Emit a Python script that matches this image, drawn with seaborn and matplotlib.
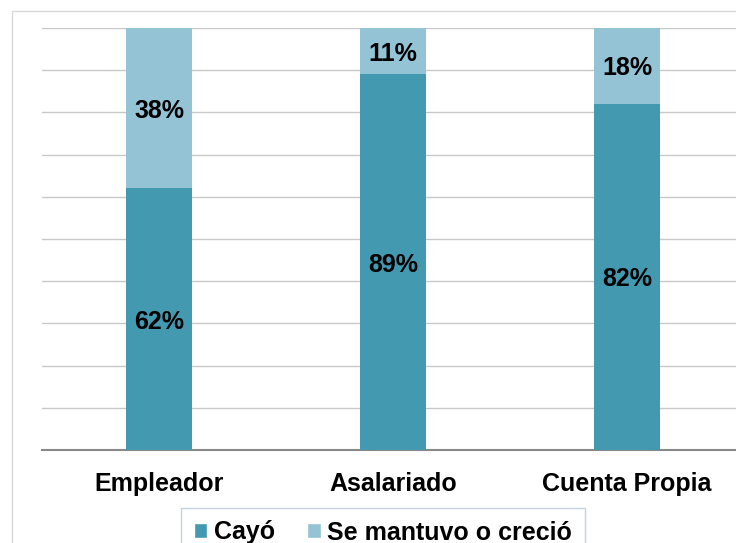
import matplotlib
matplotlib.use("Agg")
import matplotlib.pyplot as plt
import seaborn as sns
import pandas as pd
from matplotlib.patches import Patch, Rectangle

# datos del gráfico
categorias = ['Empleador', 'Asalariado', 'Cuenta Propia']
cayo = [62, 89, 82]
mantuvo = [38, 11, 18]
series = ['Cayó', 'Se mantuvo o creció']

color_cayo = '#4399b0'
color_mantuvo = '#93c3d4'

sns.set_style("white")
plt.rcParams['font.family'] = ['Liberation Sans', 'DejaVu Sans']
plt.rcParams['text.color'] = 'black'
plt.rcParams['xtick.labelcolor'] = 'black'

df = pd.DataFrame({'Categoria': categorias, 'Cayo': cayo, 'Mantuvo': mantuvo})
df['Total'] = df['Cayo'] + df['Mantuvo']

fig = plt.figure(figsize=(7.36, 5.43), dpi=100)
ax = fig.add_axes([42 / 736, 1 - 450 / 543, 702 / 736, 422 / 543])

# barras apiladas: total (claro) y luego la parte que cayó (oscuro)
sns.barplot(data=df, x='Categoria', y='Total', color=color_mantuvo,
            width=0.286, saturation=1, linewidth=0, ax=ax, zorder=2)
sns.barplot(data=df, x='Categoria', y='Cayo', color=color_cayo,
            width=0.286, saturation=1, linewidth=0, ax=ax, zorder=3)

for i, row in df.iterrows():
    ax.text(i, row['Cayo'] / 2, f"{row['Cayo']}%", ha='center', va='center_baseline',
            fontsize=18, fontweight='bold', color='black', zorder=4)
    ax.text(i, row['Cayo'] + row['Mantuvo'] / 2, f"{row['Mantuvo']}%",
            ha='center', va='center_baseline', fontsize=18, fontweight='bold',
            color='black', zorder=4)

ax.set_xlim(-0.5, 2.5)
ax.set_ylim(0, 100)
ax.set_yticks(range(0, 101, 10))
ax.yaxis.grid(True, color='#c8c8c8', linewidth=1, zorder=0)
ax.set_axisbelow(True)
ax.tick_params(axis='y', left=False, labelleft=False)
ax.set_xlabel('')
ax.set_ylabel('')

# marcas del eje x en los límites de cada categoría
ax.set_xticks([0, 1, 2])
ax.set_xticklabels(categorias, fontsize=18, fontweight='bold', color='black')
ax.tick_params(axis='x', which='major', length=0, pad=16)
ax.set_xticks([-0.5, 0.5, 1.5, 2.5], minor=True)
ax.tick_params(axis='x', which='minor', length=7, width=1.5, color='#888888', direction='out')

for s in ['top', 'right', 'left']:
    ax.spines[s].set_visible(False)
ax.spines['bottom'].set_color('#888888')
ax.spines['bottom'].set_linewidth(1.5)

# borde del área del gráfico
fig.patches.append(Rectangle((12 / 736, -0.1), 1.0, 1 - 11 / 543 + 0.1,
                             transform=fig.transFigure, fill=False,
                             edgecolor='#d9d9d9', linewidth=1))

handles = [Patch(facecolor=color_cayo, label=series[0]),
           Patch(facecolor=color_mantuvo, label=series[1])]
leg = fig.legend(handles=handles, loc='upper center',
                 bbox_to_anchor=(383 / 736, 1 - 508 / 543), ncol=2,
                 frameon=True, fancybox=False, edgecolor='#b8c7d9',
                 prop={'size': 18, 'weight': 'bold'},
                 handlelength=0.55, handleheight=0.55, handletextpad=0.25,
                 columnspacing=1.3, borderpad=0.5, borderaxespad=0)
leg.get_frame().set_linewidth(1)

fig.savefig('out.png', dpi=100)
